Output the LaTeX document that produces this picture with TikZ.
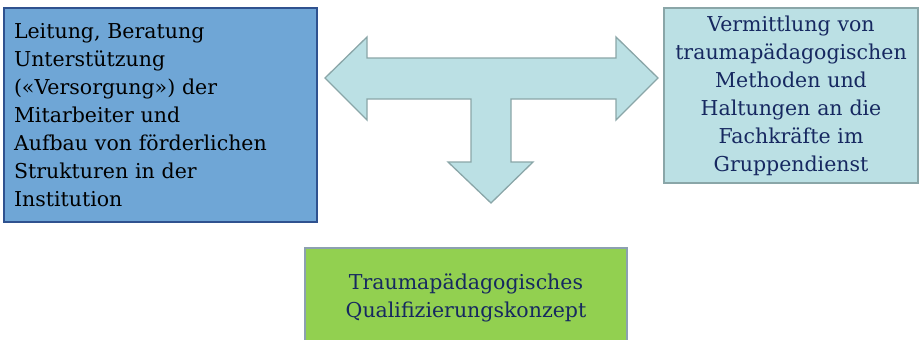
\documentclass[tikz,border=0pt]{standalone}
\usepackage{fontspec}
\setmainfont{DejaVu Serif}
\definecolor{lbfill}{RGB}{111,166,214}
\definecolor{lbdraw}{RGB}{47,82,143}
\definecolor{tealfill}{RGB}{187,224,228}
\definecolor{tealdraw}{RGB}{138,166,168}
\definecolor{greenfill}{RGB}{146,208,80}
\definecolor{greendraw}{RGB}{140,160,176}
\definecolor{navytext}{RGB}{22,40,96}
\tikzset{
  box/.style={rectangle, line width=1.3pt, inner sep=0pt, font=\fontsize{20.5}{28}\selectfont},
}
\begin{document}
\begin{tikzpicture}[x=1pt,y=-1pt]
\useasboundingbox (0,0) rectangle (919,340);
\clip (0,0) rectangle (919,340);
\node[box, draw=lbdraw, fill=lbfill, minimum width=313, minimum height=214,
      text width=293, align=left] (lead) at (160.5,115)
  {Leitung, Beratung\\Unterstützung\\(«Versorgung») der\\Mitarbeiter und\\Aufbau von förderlichen\\Strukturen in der\\Institution};
\node[box, draw=tealdraw, fill=tealfill, minimum width=254, minimum height=175,
      text width=254, align=center, text=navytext] (verm) at (791,95.5)
  {Vermittlung von\\traumapädagogischen\\Methoden und\\Haltungen an die\\Fachkräfte im\\Gruppendienst};
\node[box, draw=greendraw, fill=greenfill, minimum width=322, minimum height=100,
      text width=322, align=center, text=navytext] (quali) at (466,298)
  {Traumapädagogisches\\Qualifizierungskonzept};
\draw[line width=1.3pt, draw=tealdraw, fill=tealfill, line join=miter]
  (325,78) -- (367,37) -- (367,58) -- (616,58) -- (616,37) -- (658,78)
  -- (616,120) -- (616,99) -- (511,99) -- (511,162) -- (533,162)
  -- (491,203) -- (448,162) -- (471,162) -- (471,99) -- (367,99)
  -- (367,120) -- cycle;
\end{tikzpicture}
\end{document}
